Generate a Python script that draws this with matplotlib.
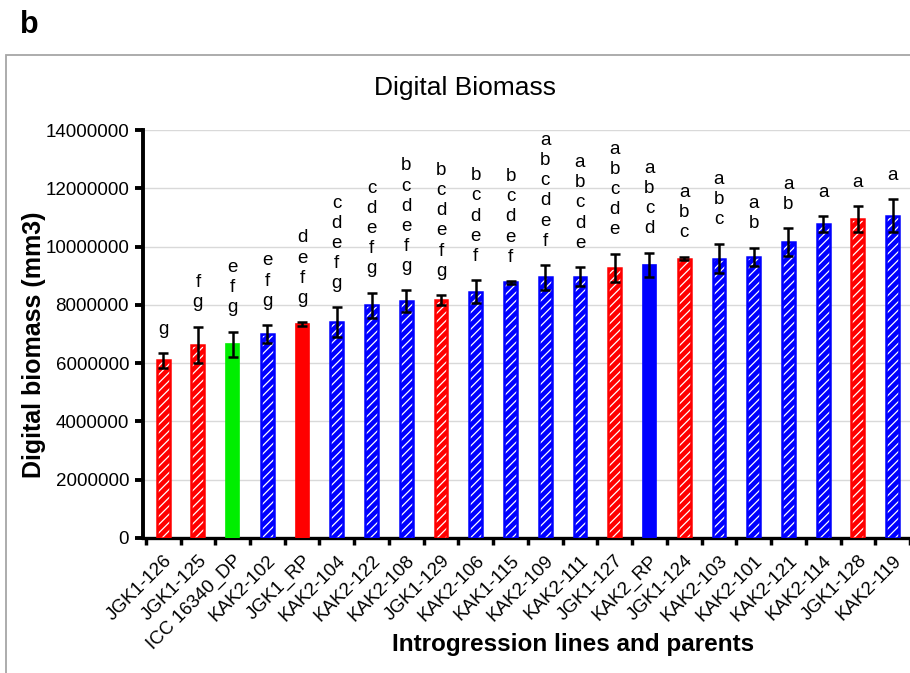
import matplotlib
matplotlib.use("Agg")
import matplotlib.pyplot as plt
from matplotlib.patches import Rectangle
import numpy as np

plt.rcParams["font.family"] = ["Liberation Sans", "DejaVu Sans"]
plt.rcParams["hatch.linewidth"] = 0.9

# Digital biomass per line (mean, SE) and Tukey groupings
lines = [
    "JGK1-126", "JGK1-125", "ICC 16340_DP", "KAK2-102", "JGK1_RP", "KAK2-104",
    "KAK2-122", "KAK2-108", "JGK1-129", "KAK2-106", "KAK1-115", "KAK2-109",
    "KAK2-111", "JGK1-127", "KAK2_RP", "JGK1-124", "KAK2-103", "KAK2-101",
    "KAK2-121", "KAK2-114", "JGK1-128", "KAK2-119",
]
biomass = [
    6100000, 6630000, 6650000, 7000000, 7340000, 7410000, 7980000, 8130000,
    8160000, 8450000, 8770000, 8940000, 8970000, 9280000, 9370000, 9590000,
    9590000, 9650000, 10150000, 10770000, 10950000, 11060000,
]
biomass_se = [
    250000, 620000, 430000, 310000, 70000, 500000, 440000, 370000,
    180000, 400000, 50000, 430000, 330000, 480000, 420000, 60000,
    510000, 310000, 480000, 270000, 440000, 560000,
]
groups = [
    "g", "fg", "efg", "efg", "defg", "cdefg", "cdefg", "bcdefg",
    "bcdefg", "bcdef", "bcdef", "abcdef", "abcde", "abcde", "abcd", "abc",
    "abc", "ab", "ab", "a", "a", "a",
]
y_ticks = [0, 2000000, 4000000, 6000000, 8000000, 10000000, 12000000, 14000000]


def bar_color(name: str) -> str:
    if name.startswith("JGK"):
        return "#ff0000"
    if name.startswith("KAK"):
        return "#0000ff"
    return "#00ee00"


def is_parent(name: str) -> bool:
    return name.endswith("_RP") or name.endswith("_DP")


fig = plt.figure(figsize=(9.1, 6.73), dpi=100)

# grey panel frame
fig.patches.append(Rectangle((6 / 910, -0.2), 1.2, 1.2 - 55 / 673,
                             transform=fig.transFigure, fill=False,
                             edgecolor="#a6a6a6", lw=1.3))
fig.text(20 / 910, 1 - 10 / 673, "b", fontsize=22, fontweight="bold",
         va="top", ha="left")

ax = fig.add_axes([143 / 910, 1 - 538 / 673, 1 - 143 / 910, 408 / 673])
x = np.arange(len(lines))
width = 0.37

for i, name in enumerate(lines):
    c = bar_color(name)
    if is_parent(name):
        ax.bar(x[i], biomass[i], width, color=c, edgecolor=c, lw=1.2, zorder=3)
    else:
        ax.bar(x[i], biomass[i], width, color=c, edgecolor="white", lw=0,
               hatch="////", zorder=3)
        ax.bar(x[i], biomass[i], width, fill=False, edgecolor=c, lw=1.8, zorder=4)

ax.errorbar(x, biomass, yerr=biomass_se, fmt="none", ecolor="black",
            elinewidth=1.8, capsize=3.8, capthick=1.8, zorder=5)

for i, g in enumerate(groups):
    ax.annotate("\n".join(g), (x[i], biomass[i] + biomass_se[i]),
                xytext=(0, 11), textcoords="offset points",
                ha="center", va="bottom", fontsize=13.5, linespacing=1.24,
                zorder=6)

ax.set_xlim(-0.58, 21.5)
ax.set_ylim(0, 14000000)
ax.set_yticks(y_ticks)
ax.set_yticklabels([str(t) for t in y_ticks])
ax.yaxis.grid(True, color="#d9d9d9", lw=1.0, zorder=0)
ax.set_axisbelow(True)

ax.set_xticks(x)
ax.set_xticklabels(lines, rotation=45, ha="right", rotation_mode="anchor")
ax.set_xticks(np.arange(-0.5, len(lines), 1.0), minor=True)
ax.tick_params(axis="x", which="major", length=0, pad=10, labelsize=13.5)
ax.tick_params(axis="x", which="minor", length=5, width=2.5, direction="out")
ax.tick_params(axis="y", length=6, width=2.8, direction="out", pad=4,
               labelsize=13.5)

for side in ["top", "right"]:
    ax.spines[side].set_visible(False)
ax.spines["left"].set_linewidth(2.8)
ax.spines["bottom"].set_linewidth(2.4)

fig.text(465 / 910, 1 - 88 / 673, "Digital Biomass", fontsize=19,
         ha="center", va="center")
fig.text(34 / 910, 1 - 345 / 673, "Digital biomass (mm3)", fontsize=18,
         fontweight="bold", rotation=90, ha="center", va="center")
fig.text(573 / 910, 1 - 645 / 673, "Introgression lines and parents",
         fontsize=17.5, fontweight="bold", ha="center", va="center")

fig.savefig("out.png", dpi=100)
